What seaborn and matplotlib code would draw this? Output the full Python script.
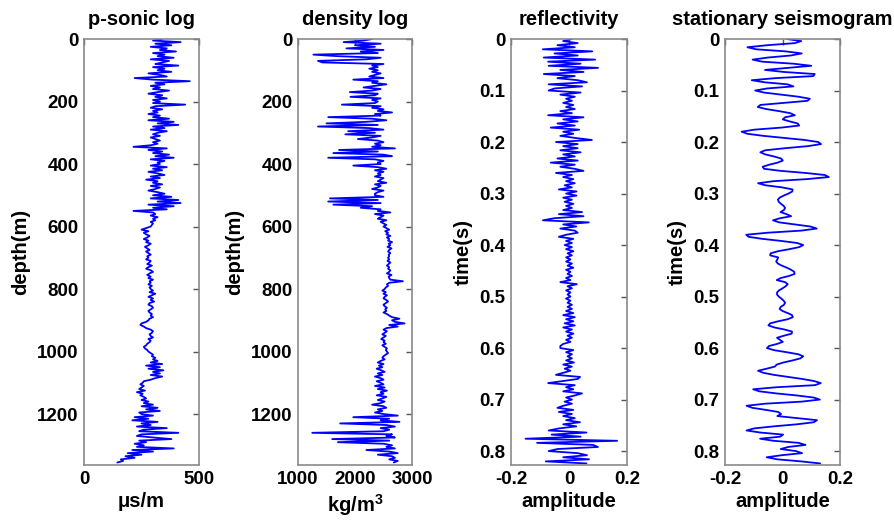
import numpy as np
import matplotlib
matplotlib.use("Agg")
import matplotlib.pyplot as plt
import seaborn as sns

# ---------------- data ----------------
depth_step_m = 5.0
time_step_s = 0.004

sonic_us_per_m = [
    340, 300, 420, 310, 380, 290, 360, 330, 400, 300, 350, 320, 390, 290, 370, 340, 310, 410, 300, 350,
    320, 380, 280, 330, 360, 220, 300, 460, 310, 350, 290, 330, 300, 370, 320, 280, 340, 310, 360, 300,
    330, 300, 440, 310, 290, 340, 300, 320, 280, 330, 300, 370, 280, 390, 320, 410, 300, 350, 290, 360,
    320, 300, 330, 290, 310, 330, 300, 320, 290, 215, 360, 280, 340, 300, 370, 310, 390, 290, 350, 320,
    330, 290, 360, 300, 340, 280, 320, 350, 290, 330, 270, 320, 300, 340, 290, 330, 310, 280, 320, 350,
    300, 380, 290, 410, 320, 420, 280, 390, 300, 360, 215, 300, 310, 290, 320, 300, 310, 290, 300, 295,
    290, 270, 250, 280, 260, 270, 285, 275, 260, 280, 270, 290, 280, 265, 275, 285, 270, 280, 290, 275,
    280, 270, 290, 285, 275, 295, 280, 270, 290, 300, 285, 275, 290, 280, 300, 285, 290, 280, 295, 285,
    290, 300, 285, 310, 295, 280, 300, 290, 305, 285, 280, 295, 300, 290, 280, 285, 295, 290, 300, 285,
    280, 270, 250, 245, 260, 270, 290, 300, 295, 285, 290, 300, 280, 290, 285, 275, 270, 260, 265, 275,
    280, 290, 300, 295, 310, 300, 320, 290, 340, 270, 330, 280, 345, 300, 330, 290, 340, 310, 290, 260,
    255, 245, 260, 250, 240, 265, 230, 255, 245, 260, 270, 250, 280, 260, 300, 250, 320, 270, 330, 240,
    250, 300, 220, 280, 210, 320, 250, 290, 230, 360, 260, 240, 410, 250, 230, 300, 380, 240, 270, 220,
    260, 230, 390, 210, 300, 190, 250, 180, 220, 160, 170, 145,
]

density_kg_m3 = [
    2300, 2150, 1800, 2450, 2000, 2350, 1850, 2500, 2100, 2400, 1270, 1700, 2450, 2200, 1350, 1430, 2500, 2300, 2400, 2250,
    2400, 2300, 2450, 2350, 2250, 2500, 1970, 2400, 2300, 2550, 2350, 2150, 2450, 2300, 1910, 2400, 2350, 1920, 2450, 2300,
    2400, 2350, 1770, 2450, 2300, 2500, 2400, 2650, 2350, 2450, 1530, 2300, 2550, 2200, 1500, 2400, 1350, 2250, 2500, 1880,
    2350, 1830, 2450, 2300, 2050, 2400, 2500, 2350, 2450, 2300, 2700, 1720, 2400, 1620, 2500, 2650, 1530, 2350, 2500, 2400,
    2450, 1970, 2400, 2550, 2350, 2500, 2400, 2450, 2350, 2500, 2450, 2400, 2550, 2350, 2450, 2400, 2300, 2500, 2400, 2350,
    2350, 2500, 1560, 2400, 1530, 2450, 1620, 2300, 2100, 2450, 2400, 2620, 2350, 2500, 2450, 2400, 2550, 2450, 2500, 2550,
    2500, 2550, 2600, 2530, 2580, 2550, 2620, 2560, 2600, 2580, 2650, 2590, 2620, 2570, 2640, 2600, 2580, 2620, 2590, 2600,
    2580, 2600, 2570, 2620, 2590, 2560, 2600, 2580, 2620, 2600, 2560, 2640, 2590, 2600, 2620, 2840, 2600, 2560, 2580, 2540,
    2520, 2480, 2540, 2500, 2560, 2520, 2500, 2550, 2580, 2540, 2500, 2520, 2560, 2530, 2550, 2500, 2560, 2600, 2650, 2780,
    2650, 2700, 2870, 2600, 2750, 2550, 2500, 2560, 2520, 2480, 2540, 2500, 2460, 2520, 2500, 2540, 2480, 2520, 2560, 2540,
    2560, 2580, 2540, 2500, 2480, 2520, 2450, 2400, 2500, 2420, 2480, 2380, 2460, 2520, 2400, 2480, 2350, 2450, 2500, 2380,
    2450, 2500, 2350, 2520, 2400, 2560, 2450, 2500, 2380, 2550, 2480, 2400, 2520, 2450, 2300, 2500, 2550, 2400, 2480, 2350,
    2500, 2750, 1970, 2600, 2450, 2780, 1740, 2550, 2700, 2450, 2600, 2500, 1250, 2650, 2550, 2700, 1600, 2600, 1700, 2500,
    2650, 2550, 2700, 2200, 2600, 2750, 2400, 2650, 2700, 2600, 2750, 2680,
]

reflectivity = [
    0.01, -0.02, 0.03, -0.04, 0.02, -0.09, 0.08, -0.05, 0.03, -0.087, 0.09, -0.072, 0.04, -0.07, 0.10, -0.03, 0.05, -0.087, 0.02, -0.04, 0.03, 0.062, -0.07, 0.045, -0.05,
    -0.07, 0.04, -0.03, 0.02, -0.01, 0.01, -0.02, 0.015, -0.01, 0.02, -0.03, 0.01, -0.072, 0.05, -0.02, 0.03, -0.04, 0.02, -0.063, 0.035, -0.02, 0.015, -0.03, 0.02, 0.079,
    -0.045, 0.03, -0.02, 0.03, -0.03, 0.04, -0.02, 0.02, -0.04, 0.03, -0.063, 0.02, -0.03, 0.02, 0.05, -0.045, 0.01, -0.02, 0.015, -0.01, 0.02, -0.015, 0.01, -0.035, 0.026,
    -0.01, 0.026, -0.02, 0.01, -0.015, 0.015, -0.01, 0.01, -0.02, 0.045, -0.035, 0.05, -0.052, -0.09, 0.068, -0.02, 0.025, -0.03, 0.02, 0.03, -0.01, -0.035, 0.015, -0.01, 0.01,
    -0.015, 0.01, -0.01, 0.015, -0.005, 0.01, -0.01, 0.005, -0.01, 0.01, -0.005, 0.015, -0.01, 0.005, -0.005, 0.01, -0.01, 0.005, -0.03, 0.027, -0.005, 0.01, -0.01, 0.005, -0.005,
    0.005, -0.01, 0.005, -0.005, 0.01, -0.005, 0.01, -0.01, 0.015, -0.02, 0.02, -0.01, 0.015, -0.015, 0.02, -0.02, 0.01, -0.01, 0.015, -0.005, 0.01, -0.01, 0.005, -0.02, -0.03,
    -0.03, 0.015, -0.01, 0.01, -0.005, 0.01, -0.01, 0.017, -0.02, 0.01, -0.015, 0.005, -0.02, -0.045, 0.038, 0.03, -0.02, -0.072, 0.02, -0.01, 0.015, -0.02, 0.045, 0.02, -0.01,
    0.01, -0.015, 0.01, -0.02, -0.04, 0.015, -0.035, 0.01, -0.02, 0.02, -0.01, 0.038, -0.02, 0.025, -0.035, -0.07, 0.06, -0.06, 0.04, -0.15, 0.166, -0.11, 0.083, 0.10, -0.04,
    -0.07, 0.03, 0.062, -0.02, 0.069, -0.08, 0.06,
]

seismogram = [
    0.015, 0.065, 0.043, -0.052, -0.122, -0.092, 0.011, 0.067, 0.029, -0.051, -0.104, -0.071, 0.039, 0.100, 0.020, -0.061, 0.005, 0.112, 0.107, -0.025, -0.107, -0.063, 0.017, 0.038, -0.053,
    -0.095, -0.064, -0.006, 0.055, 0.095, 0.087, 0.005, -0.077, -0.086, -0.057, -0.012, 0.027, 0.043, 0.009, 0.001, 0.025, 0.053, 0.058, -0.004, -0.098, -0.142, -0.122, -0.067, 0.007, 0.077,
    0.124, 0.134, 0.088, 0.009, -0.060, -0.077, -0.060, -0.030, -0.005, 0.001, -0.017, -0.046, -0.069, -0.064, -0.006, 0.079, 0.147, 0.161, 0.085, -0.031, -0.085, -0.059, -0.002, 0.035, 0.034,
    0.021, 0.004, -0.010, -0.016, -0.013, -0.005, 0.004, 0.009, 0.005, -0.007, 0.014, 0.030, -0.009, -0.033, -0.011, 0.043, 0.097, 0.119, 0.065, -0.050, -0.126, -0.118, -0.070, -0.005, 0.051,
    0.072, 0.058, 0.024, -0.016, -0.041, -0.043, -0.015, -0.018, -0.022, -0.016, -0.002, 0.015, 0.030, 0.041, 0.042, 0.023, -0.006, -0.020, 0.009, 0.018, 0.011, 0.000, -0.012, -0.019, -0.019,
    -0.013, -0.004, 0.004, 0.009, 0.005, -0.006, -0.010, 0.000, 0.018, 0.033, 0.036, 0.018, -0.015, -0.043, -0.049, -0.028, 0.007, 0.033, 0.032, 0.005, -0.019, -0.009, 0.001, -0.019, -0.047,
    -0.054, -0.030, 0.014, 0.055, 0.072, 0.062, 0.035, 0.003, -0.020, -0.027, -0.055, -0.085, -0.067, -0.030, 0.019, 0.069, 0.110, 0.133, 0.113, -0.020, -0.102, -0.080, -0.022, 0.050, 0.108,
    0.130, 0.066, -0.061, -0.125, -0.105, -0.058, -0.015, -0.005, -0.018, 0.052, 0.120, 0.109, 0.050, -0.031, -0.099, -0.125, -0.077, 0.002, -0.008, -0.078, -0.031, 0.056, 0.080, 0.020, -0.006,
    0.047, 0.068, -0.003, -0.055, -0.018, 0.065, 0.131,
]

titles = ["p-sonic log", "density log", "reflectivity", "stationary seismogram"]
xlabels = ["\u03bcs/m", r"kg/m$^{\mathbf{3}}$", "amplitude", "amplitude"]
ylabels = ["depth(m)", "depth(m)", "time(s)", "time(s)"]

depth_ticks = [0, 200, 400, 600, 800, 1000, 1200]
time_ticks = [0, 0.1, 0.2, 0.3, 0.4, 0.5, 0.6, 0.7, 0.8]
time_tick_labels = ["0", "0.1", "0.2", "0.3", "0.4", "0.5", "0.6", "0.7", "0.8"]
sonic_xticks = [0, 500]
density_xticks = [1000, 2000, 3000]
amp_xticks = [-0.2, 0, 0.2]
amp_xtick_labels = ["-0.2", "0", "0.2"]

# ---------------- figure ----------------
sns.set_theme(style="white")
plt.rcParams["font.family"] = ["Liberation Sans", "DejaVu Sans"]
plt.rcParams["font.weight"] = "bold"
plt.rcParams["axes.labelweight"] = "bold"
plt.rcParams["axes.titleweight"] = "bold"
plt.rcParams["text.color"] = "black"
plt.rcParams["axes.labelcolor"] = "black"
plt.rcParams["mathtext.default"] = "bf"
plt.rcParams["mathtext.fontset"] = "custom"
plt.rcParams["mathtext.bf"] = "Liberation Sans:bold"
plt.rcParams["mathtext.rm"] = "Liberation Sans:bold"

fig = plt.figure(figsize=(8.94, 5.22), dpi=100)
fig.patch.set_facecolor("white")

bottom = 1 - 465 / 522
height = 426 / 522
lefts = [84 / 894, 298 / 894, 511 / 894, 725 / 894]
widths = [115 / 894, 114 / 894, 116 / 894, 115 / 894]
axes = [fig.add_axes([l, bottom, w, height]) for l, w in zip(lefts, widths)]

depth_m = np.arange(len(sonic_us_per_m)) * depth_step_m
depth_d = np.arange(len(density_kg_m3)) * depth_step_m
time_r = np.arange(len(reflectivity)) * time_step_s
time_s = np.arange(len(seismogram)) * time_step_s

blue = "#0000ff"
series = [
    (sonic_us_per_m, depth_m),
    (density_kg_m3, depth_d),
    (reflectivity, time_r),
    (seismogram, time_s),
]
for ax, (xv, yv) in zip(axes, series):
    sns.lineplot(x=xv, y=yv, ax=ax, orient="y", sort=False, estimator=None,
                 color=blue, linewidth=1.3)

fs_tick = 13.5
fs_text = 14.5
for i, ax in enumerate(axes):
    ax.set_title(titles[i], fontsize=fs_text, fontweight="bold", pad=10, color="black")
    ax.set_xlabel(xlabels[i], fontsize=fs_text, fontweight="bold", labelpad=3, color="black")
    ax.set_ylabel(ylabels[i], fontsize=fs_text, fontweight="bold", labelpad=5, color="black")
    for s in ax.spines.values():
        s.set_color("#8a8a8a")
        s.set_linewidth(1.2)
    ax.tick_params(direction="in", top=True, right=True, length=4, width=1,
                   color="#555555", labelsize=fs_tick, labelcolor="black", pad=4)

axes[0].set_xlim(0, 500)
axes[0].set_xticks(sonic_xticks)
axes[0].set_xticklabels([str(v) for v in sonic_xticks], fontweight="bold")
axes[1].set_xlim(1000, 3000)
axes[1].set_xticks(density_xticks)
axes[1].set_xticklabels([str(v) for v in density_xticks], fontweight="bold")
for ax in axes[:2]:
    ax.set_ylim(1363, 0)
    ax.set_yticks(depth_ticks)
    ax.set_yticklabels([str(v) for v in depth_ticks], fontweight="bold")
for ax in axes[2:]:
    ax.set_xlim(-0.2, 0.2)
    ax.set_xticks(amp_xticks)
    ax.set_xticklabels(amp_xtick_labels, fontweight="bold")
    ax.set_ylim(0.827, 0)
    ax.set_yticks(time_ticks)
    ax.set_yticklabels(time_tick_labels, fontweight="bold")

fig.savefig("out.png", dpi=100, facecolor="white")
